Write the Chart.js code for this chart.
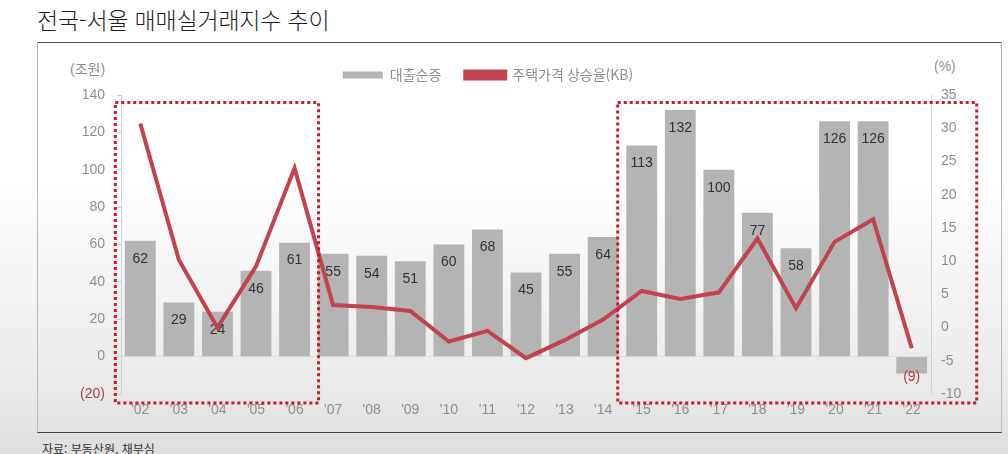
<!DOCTYPE html>
<html lang="ko">
<head>
<meta charset="utf-8">
<script src="https://cdn.jsdelivr.net/npm/chart.js@4.4.1/dist/chart.umd.min.js"></script>
<style>
  html, body { margin: 0; padding: 0; }
  body {
    width: 1008px; height: 454px; position: relative; overflow: hidden;
    background: linear-gradient(to bottom, #ffffff 0%, #ffffff 40%, #e9e9e9 85%, #dedede 100%);
    font-family: "Noto Sans CJK KR", sans-serif;
  }
  #title {
    position: absolute; left: 37px; top: 2px;
    font-size: 23px; font-weight: 300; color: #1f1f1f; letter-spacing: -0.2px;
  }
  #box {
    position: absolute; left: 37px; top: 42px; width: 963px; height: 389px;
    border-top: 1px solid #555; border-bottom: 1px solid #444;
    border-left: 1px solid #bbb; border-right: 1px solid #bbb;
  }
  #source {
    position: absolute; left: 42px; top: 440px;
    font-size: 12px; color: #333;
  }
  #unitL, #unitR {
    position: absolute; top: 58px; font-size: 14px; color: #8f8f8f;
    font-family: "Liberation Sans", "Noto Sans CJK KR", sans-serif;
  }
  #unitL { left: 70px; }
  #unitR { left: 934px; }
  #wrap { position: absolute; left: 0; top: 0; width: 1008px; height: 454px; }
</style>
</head>
<body>
<div id="title">전국-서울 매매실거래지수 추이</div>
<div id="box"></div>
<div id="unitL">(조원)</div>
<div id="unitR">(%)</div>
<div id="source">자료: 부동산원, 채부심</div>
<div id="wrap"><canvas id="myChart"></canvas></div>
<script>
const years = ["'02", "'03", "'04", "'05", "'06", "'07", "'08", "'09", "'10", "'11", "'12",
  "'13", "'14", "'15", "'16", "'17", "'18", "'19", "'20", "'21", "'22"];
const loanIncrease = [62, 29, 24, 46, 61, 55, 54, 51, 60, 68, 45, 55, 64, 113, 132, 100, 77, 58, 126, 126, -9];
const priceRise = [30.7, 10.2, 0, 9.2, 24.0, 3.4, 3.1, 2.5, -2.1, -0.5, -4.6, -1.9, 1.2, 5.5, 4.3, 5.3, 13.4, 2.9, 12.9, 16.3, -3.1];
const leftTicks = [-20, 0, 20, 40, 60, 80, 100, 120, 140];
const rightTicks = [-10, -5, 0, 5, 10, 15, 20, 25, 30, 35];

const ctx = document.getElementById("myChart");
const TOP = 95;
const LAYOUT_TOP = 44;

// 막대 안의 숫자
const barLabels = {
  id: "barLabels",
  afterDatasetDraw(chart, args) {
    if (args.index !== 0) return;
    const c = chart.ctx;
    c.save();
    c.font = "14px 'Liberation Sans', sans-serif";
    c.textAlign = "center";
    c.textBaseline = "middle";
    args.meta.data.forEach((bar, i) => {
      const v = loanIncrease[i];
      if (v < 0) {
        c.fillStyle = "#a8404c";
        c.fillText("(" + (-v) + ")", bar.x, bar.y + 4);
      } else {
        c.fillStyle = "#333";
        c.fillText(v, bar.x, bar.y + 18);
      }
    });
    c.restore();
  },
};

// 점선 박스
const dottedBoxes = {
  id: "dottedBoxes",
  afterDraw(chart) {
    const x = chart.scales.x;
    const y = chart.scales.y;
    const top = y.getPixelForValue(136);
    const bottom = chart.chartArea.bottom + 9;
    const boxes = [
      [x.getPixelForValue(0) - 25, x.getPixelForValue(4) + 24],
      [x.getPixelForValue(13) - 24, x.getPixelForValue(20) + 65],
    ];
    const c = chart.ctx;
    c.save();
    c.strokeStyle = "#d0142c";
    c.lineWidth = 3;
    c.setLineDash([3, 3]);
    boxes.forEach(([l, r]) => c.strokeRect(l, top, r - l, bottom - top));
    c.restore();
  },
};

// 범례 높이, 위치 조절
const legendTweak = {
  id: "legendTweak",
  beforeInit(chart) {
    const fit = chart.legend.fit;
    chart.legend.fit = function () {
      fit.bind(chart.legend)();
      this.height = TOP - LAYOUT_TOP;
    };
  },
  afterLayout(chart) {
    chart.legend.left -= 16;
    chart.legend.right -= 16;
  },
};

new Chart(ctx, {
  data: {
    labels: years,
    datasets: [
      {
        type: "bar",
        label: "대출순증",
        data: loanIncrease,
        backgroundColor: "#b4b4b4",
        borderWidth: 0,
        barPercentage: 0.8,
        categoryPercentage: 1.0,
        yAxisID: "y",
        order: 1,
      },
      {
        type: "line",
        label: "주택가격 상승율(KB)",
        data: priceRise,
        borderColor: "#c0434f",
        backgroundColor: "#c0434f",
        borderWidth: 4,
        pointRadius: 0,
        tension: 0,
        yAxisID: "y1",
        order: 0,
      },
    ],
  },
  options: {
    responsive: true,
    maintainAspectRatio: false,
    animation: false,
    layout: { padding: { top: LAYOUT_TOP, left: 0, right: 0, bottom: 0 } },
    plugins: {
      tooltip: { enabled: false },
      legend: {
        position: "top",
        align: "center",
        labels: {
          boxWidth: 40,
          boxHeight: 7,
          padding: 24,
          color: "#8f8f8f",
          font: { family: "'Noto Sans CJK KR', sans-serif", size: 14 },
          sort: (a, b) => a.datasetIndex - b.datasetIndex,
        },
      },
    },
    scales: {
      x: {
        grid: { display: false, drawTicks: false },
        border: { display: false },
        ticks: {
          color: "#8f8f8f",
          padding: 8,
          font: { family: "'Liberation Sans', sans-serif", size: 14 },
        },
        afterFit: (s) => { s.height = 60; },
      },
      y: {
        position: "left",
        min: -20,
        max: 140,
        afterBuildTicks: (s) => { s.ticks = leftTicks.map((v) => ({ value: v })); },
        grid: {
          drawOnChartArea: true,
          tickLength: 4,
          tickColor: "#ccc",
          color: (c) => (c.tick && c.tick.value === 0 ? "#dedede" : "transparent"),
        },
        border: { color: "#d0d0d0" },
        ticks: {
          padding: 12,
          color: (c) => (c.tick && c.tick.value < 0 ? "#a8404c" : "#8f8f8f"),
          font: { family: "'Liberation Sans', sans-serif", size: 14 },
          callback: (v) => (v < 0 ? "(" + -v + ")" : v),
        },
        afterFit: (s) => { s.width = 121; },
      },
      y1: {
        position: "right",
        min: -10,
        max: 35,
        afterBuildTicks: (s) => { s.ticks = rightTicks.map((v) => ({ value: v })); },
        grid: { drawOnChartArea: false, drawTicks: false },
        border: { color: "#d0d0d0" },
        ticks: {
          padding: 10,
          color: "#8f8f8f",
          font: { family: "'Liberation Sans', sans-serif", size: 14 },
        },
        afterFit: (s) => { s.width = 77; },
      },
    },
  },
  plugins: [barLabels, dottedBoxes, legendTweak],
});
</script>
</body>
</html>
